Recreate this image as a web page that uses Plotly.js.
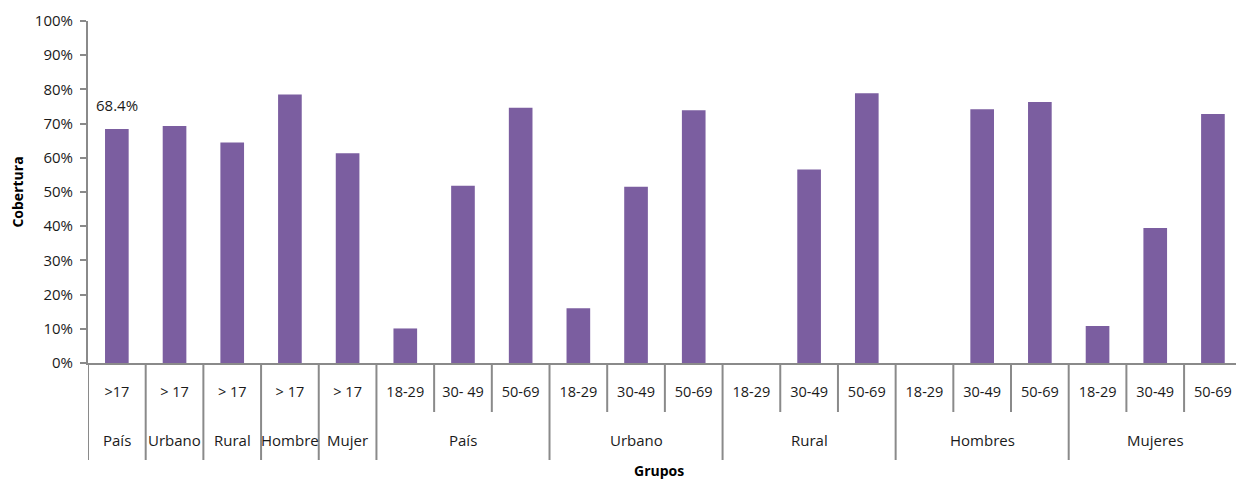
<!DOCTYPE html>
<html>
<head>
<meta charset="utf-8">
<script src="https://cdn.plot.ly/plotly-3.0.1.min.js"></script>
<style>html,body{margin:0;padding:0;background:#fff;}#chart{width:1236px;height:481px;}</style>
</head>
<body>
<div id="chart"></div>
<script>
// Group (second row) labels, one per bar
const groups = ["País", "Urbano", "Rural", "Hombre", "Mujer",
  "País", "País", "País",
  "Urbano", "Urbano", "Urbano",
  "Rural", "Rural", "Rural",
  "Hombres", "Hombres", "Hombres",
  "Mujeres", "Mujeres", "Mujeres"];
// Block id of each bar (bars sharing a block share a group label)
const blocks = [0, 1, 2, 3, 4, 5, 5, 5, 6, 6, 6, 7, 7, 7, 8, 8, 8, 9, 9, 9];
// Subcategory (first row) labels
const subgroups = [">17", "> 17", "> 17", "> 17", "> 17",
  "18-29", "30- 49", "50-69",
  "18-29", "30-49", "50-69",
  "18-29", "30-49", "50-69",
  "18-29", "30-49", "50-69",
  "18-29", "30-49", "50-69"];
// Coverage (%)
const coverage = [68.4, 69.3, 64.5, 78.5, 61.3,
  10.1, 51.8, 74.6,
  16.0, 51.5, 73.9,
  0, 56.6, 78.9,
  0, 74.2, 76.3,
  10.8, 39.5, 72.8];
const yTicks = [0, 10, 20, 30, 40, 50, 60, 70, 80, 90, 100];
const labelIndex = 0; // only the first bar carries a data label

const font = "Open Sans, Liberation Sans, sans-serif";
const axisGray = "#8a8a8a";
const textColor = "#1a1a1a";
const idx = coverage.map((_, i) => i);

// plot area spans y from 21 px to 363 px (342 px tall); paper units below axis
const plotH = 342;
const px = p => -p / plotH;

const shapes = [];
// short separators between every bar slot, long ones at block edges
for (let i = 0; i <= idx.length; i++) {
  const isBlockEdge = i === 0 || i === idx.length || blocks[i] !== blocks[i - 1];
  shapes.push({
    type: "line", xref: "x", yref: "paper",
    x0: i - 0.5, x1: i - 0.5, y0: 0, y1: px(isBlockEdge ? 97 : 49),
    line: {color: axisGray, width: 2}
  });
}

const annotations = [];
// group labels centred on their block
const seen = {};
blocks.forEach((b, i) => {
  if (seen[b]) return;
  seen[b] = true;
  const members = idx.filter(j => blocks[j] === b);
  const mid = (members[0] + members[members.length - 1]) / 2;
  annotations.push({
    x: mid, xref: "x", y: px(77), yref: "paper", yanchor: "middle",
    text: groups[i], showarrow: false,
    font: {family: font, size: 15, color: textColor}
  });
});
// data label for the first bar
annotations.push({
  x: idx[labelIndex], xref: "x", y: coverage[labelIndex], yref: "y",
  text: coverage[labelIndex].toFixed(1) + "%",
  showarrow: false, yshift: 24,
  font: {family: font, size: 15, color: textColor}
});
// x axis title
annotations.push({
  x: 0.4975, xref: "paper", y: px(107), yref: "paper", yanchor: "middle",
  text: "<b>Grupos</b>", showarrow: false,
  font: {family: font, size: 14, color: "#000"}
});

const trace = {
  type: "bar",
  x: idx,
  y: coverage,
  width: 0.41,
  marker: {color: "#7B5EA0", line: {width: 0}},
  hoverinfo: "skip"
};

const layout = {
  width: 1236, height: 481,
  margin: {l: 88, r: 0, t: 21, b: 118},
  paper_bgcolor: "#fff", plot_bgcolor: "#fff",
  showlegend: false,
  font: {family: font, size: 15, color: textColor},
  xaxis: {
    range: [-0.5, 19.4],
    tickvals: idx, ticktext: subgroups,
    showline: true, linecolor: axisGray, linewidth: 2,
    ticks: "", ticklabelstandoff: 15, ticklabeloverflow: "allow",
    showgrid: false, zeroline: false,
    tickfont: {family: font, size: 14.5, color: textColor}
  },
  yaxis: {
    range: [0, 100],
    tickvals: yTicks,
    ticktext: yTicks.map(v => v + "%"),
    showline: true, linecolor: axisGray, linewidth: 2,
    ticks: "outside", ticklen: 6, tickwidth: 2, tickcolor: axisGray,
    ticklabelstandoff: 4,
    showgrid: false, zeroline: false,
    tickfont: {family: font, size: 15, color: textColor},
    title: {text: "<b>Cobertura</b>", font: {family: font, size: 14, color: "#000"}, standoff: 8}
  },
  shapes: shapes,
  annotations: annotations
};

Plotly.newPlot("chart", [trace], layout, {staticPlot: true});
</script>
</body>
</html>
